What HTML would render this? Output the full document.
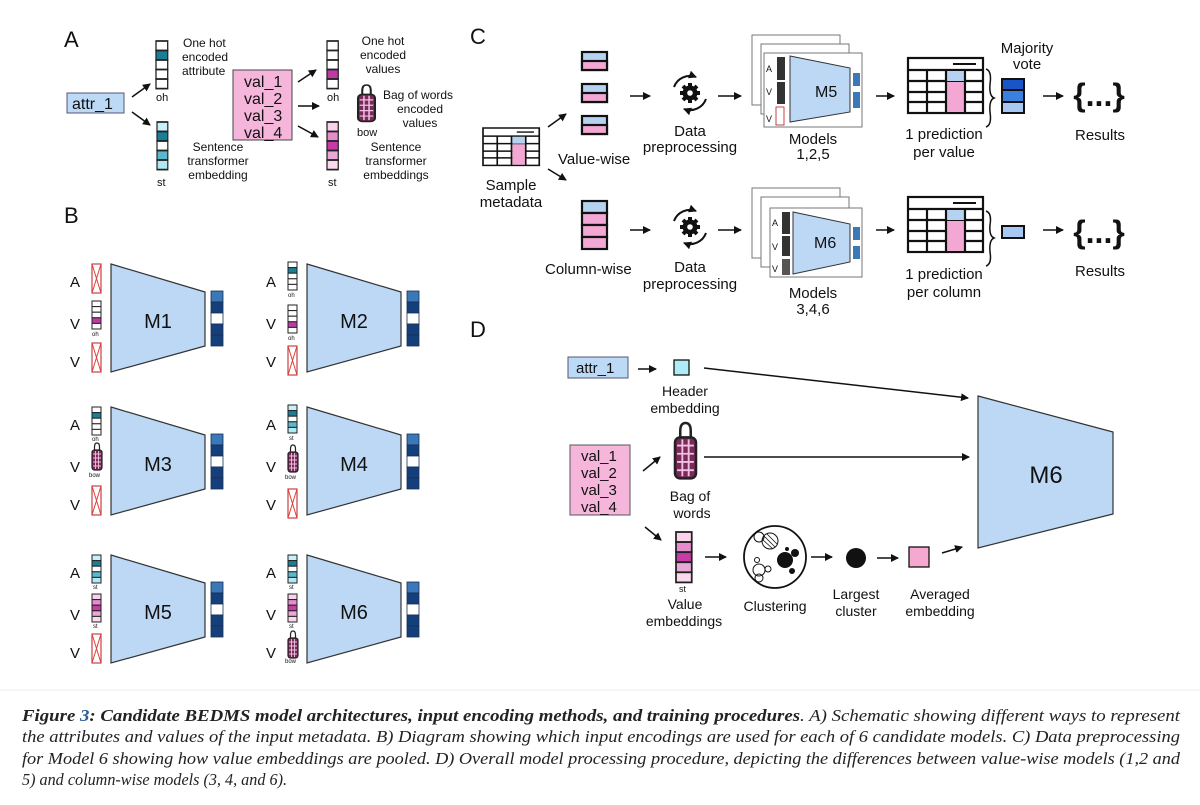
<!DOCTYPE html>
<html><head><meta charset="utf-8"><style>
html,body{margin:0;padding:0;background:#fff}
svg{display:block}
text{font-family:"Liberation Sans",sans-serif;fill:#111}
.cap{font-family:"Liberation Serif",serif;font-style:italic;font-size:16.5px;fill:#222}
</style></head><body>
<svg width="1200" height="805" viewBox="0 0 1200 805" xmlns="http://www.w3.org/2000/svg">
<defs>
<marker id="ah" markerWidth="8" markerHeight="8" refX="7" refY="4" orient="auto" markerUnits="userSpaceOnUse"><path d="M0,0 L8,4 L0,8 z" fill="#111"/></marker>
<g id="xb"><rect x="0" y="0" width="9" height="29" fill="#fff" stroke="#c84040" stroke-width="1.2"/><path d="M0,0 L9,29 M9,0 L0,29" stroke="#e04040" stroke-width="1"/></g>
<g id="ohT" stroke="#222" stroke-width="1"><rect x="0" y="0" width="9" height="5.6" fill="#fff"/><rect x="0" y="5.6" width="9" height="5.6" fill="#1a7f96"/><rect x="0" y="11.2" width="9" height="5.6" fill="#fff"/><rect x="0" y="16.8" width="9" height="5.6" fill="#fff"/><rect x="0" y="22.4" width="9" height="5.6" fill="#fff"/></g>
<g id="ohM" stroke="#222" stroke-width="1"><rect x="0" y="0" width="9" height="5.6" fill="#fff"/><rect x="0" y="5.6" width="9" height="5.6" fill="#fff"/><rect x="0" y="11.2" width="9" height="5.6" fill="#fff"/><rect x="0" y="16.8" width="9" height="5.6" fill="#c03aa6"/><rect x="0" y="22.4" width="9" height="5.6" fill="#fff"/></g>
<g id="stT" stroke="#222" stroke-width="1"><rect x="0" y="0" width="9" height="5.6" fill="#c8f0f8"/><rect x="0" y="5.6" width="9" height="5.6" fill="#1a7f96"/><rect x="0" y="11.2" width="9" height="5.6" fill="#fff"/><rect x="0" y="16.8" width="9" height="5.6" fill="#5ab8cc"/><rect x="0" y="22.4" width="9" height="5.6" fill="#b0e8f4"/></g>
<g id="stP" stroke="#222" stroke-width="1"><rect x="0" y="0" width="9" height="5.6" fill="#fad2ec"/><rect x="0" y="5.6" width="9" height="5.6" fill="#e48ccc"/><rect x="0" y="11.2" width="9" height="5.6" fill="#c83aa8"/><rect x="0" y="16.8" width="9" height="5.6" fill="#e8a8d8"/><rect x="0" y="22.4" width="9" height="5.6" fill="#fad8ee"/></g>
<g id="bow"><path d="M2.5,8 V4 Q2.5,0 5,0 Q7.5,0 7.5,4 V8" fill="none" stroke="#222" stroke-width="1.2"/><rect x="0" y="7" width="10" height="20" rx="2.5" fill="#7a2a5a" stroke="#222" stroke-width="1.2"/><path d="M1,11 H9 M1,15 H9 M1,19 H9 M1,23 H9 M3.5,8 V26 M6.5,8 V26" stroke="#f0c0e0" stroke-width="0.9"/></g>
<g id="outv" stroke="#1a2f55" stroke-width="0.8"><rect x="0" y="0" width="12" height="11" fill="#3a78b8"/><rect x="0" y="11" width="12" height="11" fill="#153f7a"/><rect x="0" y="22" width="12" height="11" fill="#fff"/><rect x="0" y="33" width="12" height="11" fill="#153f7a"/><rect x="0" y="44" width="12" height="11" fill="#153f7a"/></g>
<g id="trap"><polygon points="0,0 94,28 94,82 0,108" fill="#bcd8f5" stroke="#333" stroke-width="1.2"/></g>
<g id="tbl" stroke="#111" stroke-width="2.2" fill="#fff"><rect x="0" y="0" width="75" height="55"/><line x1="0" y1="12" x2="75" y2="12"/><line x1="0" y1="23" x2="75" y2="23"/><line x1="0" y1="34" x2="75" y2="34"/><line x1="0" y1="44" x2="75" y2="44"/><rect x="39" y="13" width="17" height="10" fill="#b5d3f0" stroke="none"/><rect x="39" y="24" width="17" height="30" fill="#f2a8d2" stroke="none"/><line x1="19" y1="12" x2="19" y2="55"/><line x1="38" y1="12" x2="38" y2="55"/><line x1="57" y1="12" x2="57" y2="55"/><line x1="45" y1="6" x2="68" y2="6" stroke-width="2"/></g>
<g id="gear"><path d="M-16,-6 A17,17 0 0 1 6,-16" fill="none" stroke="#111" stroke-width="2" marker-end="url(#ah)"/><path d="M16,6 A17,17 0 0 1 -6,16" fill="none" stroke="#111" stroke-width="2" marker-end="url(#ah)"/><circle r="7.5" fill="#111"/><g stroke="#111" stroke-width="4"><line x1="0" y1="-10" x2="0" y2="10"/><line x1="-10" y1="0" x2="10" y2="0"/><line x1="-7" y1="-7" x2="7" y2="7"/><line x1="7" y1="-7" x2="-7" y2="7"/></g><circle r="2.8" fill="#fff"/></g>
<g id="frame"><rect x="0" y="0" width="88" height="70" fill="#fff" stroke="#777" stroke-width="1"/></g>
</defs>

<!-- PANEL A -->
<text x="64" y="47" font-size="22">A</text>
<rect x="67" y="93" width="57" height="20" fill="#bcd9f5" stroke="#557" stroke-width="1"/>
<text x="72" y="109" font-size="16">attr_1</text>
<g stroke="#111" stroke-width="1.5" marker-end="url(#ah)"><line x1="132" y1="97" x2="150" y2="84"/><line x1="132" y1="112" x2="150" y2="125"/><line x1="298" y1="82" x2="316" y2="70"/><line x1="298" y1="106" x2="319" y2="106"/><line x1="298" y1="126" x2="318" y2="137"/></g>
<g transform="translate(156,41) scale(1.3,1.7)"><use href="#ohT"/></g>
<text x="156" y="101" font-size="11">oh</text>
<text x="183" y="47" font-size="12">One hot</text><text x="182" y="61" font-size="12">encoded</text><text x="182" y="75" font-size="12">attribute</text>
<g transform="translate(157,122) scale(1.2,1.7)"><use href="#stT"/></g>
<text x="157" y="186" font-size="11">st</text>
<text x="218" y="151" font-size="12" text-anchor="middle">Sentence</text><text x="218" y="165" font-size="12" text-anchor="middle">transformer</text><text x="218" y="179" font-size="12" text-anchor="middle">embedding</text>
<rect x="233" y="70" width="59" height="70" fill="#f6b6dc" stroke="#444" stroke-width="1"/>
<text x="244" y="87" font-size="16">val_1</text><text x="244" y="104" font-size="16">val_2</text><text x="244" y="121" font-size="16">val_3</text><text x="244" y="138" font-size="16">val_4</text>
<g transform="translate(327,41) scale(1.25,1.7)"><use href="#ohM"/></g>
<text x="327" y="101" font-size="11">oh</text>
<text x="383" y="45" font-size="12" text-anchor="middle">One hot</text><text x="383" y="59" font-size="12" text-anchor="middle">encoded</text><text x="383" y="73" font-size="12" text-anchor="middle">values</text>
<g transform="translate(358,85) scale(1.7,1.35)"><use href="#bow"/></g>
<text x="357" y="136" font-size="11">bow</text>
<text x="383" y="99" font-size="12">Bag of words</text><text x="420" y="113" font-size="12" text-anchor="middle">encoded</text><text x="420" y="127" font-size="12" text-anchor="middle">values</text>
<g transform="translate(327,122) scale(1.25,1.7)"><use href="#stP"/></g>
<text x="328" y="186" font-size="11">st</text>
<text x="396" y="151" font-size="12" text-anchor="middle">Sentence</text><text x="396" y="165" font-size="12" text-anchor="middle">transformer</text><text x="396" y="179" font-size="12" text-anchor="middle">embeddings</text>

<!-- PANEL B -->
<text x="64" y="223" font-size="22">B</text>
<g transform="translate(0,0)">
<text x="70" y="287" font-size="15">A</text><text x="70" y="329" font-size="15">V</text><text x="70" y="367" font-size="15">V</text>
<use href="#xb" x="92" y="264"/><use href="#ohM" x="92" y="301"/><text x="92" y="336" font-size="6">oh</text><use href="#xb" x="92" y="343"/>
<use href="#trap" x="111" y="264"/><text x="158" y="328" font-size="20" text-anchor="middle">M1</text><use href="#outv" x="211" y="291"/>
</g>
<g transform="translate(196,0)">
<text x="70" y="287" font-size="15">A</text><text x="70" y="329" font-size="15">V</text><text x="70" y="367" font-size="15">V</text>
<use href="#ohT" x="92" y="262"/><text x="92" y="297" font-size="6">oh</text><use href="#ohM" x="92" y="305"/><text x="92" y="340" font-size="6">oh</text><use href="#xb" x="92" y="346"/>
<use href="#trap" x="111" y="264"/><text x="158" y="328" font-size="20" text-anchor="middle">M2</text><use href="#outv" x="211" y="291"/>
</g>
<g transform="translate(0,143)">
<text x="70" y="287" font-size="15">A</text><text x="70" y="329" font-size="15">V</text><text x="70" y="367" font-size="15">V</text>
<use href="#ohT" x="92" y="264"/><text x="92" y="298" font-size="6">oh</text><use href="#bow" x="92" y="300"/><text x="89" y="334" font-size="6">bow</text><use href="#xb" x="92" y="343"/>
<use href="#trap" x="111" y="264"/><text x="158" y="328" font-size="20" text-anchor="middle">M3</text><use href="#outv" x="211" y="291"/>
</g>
<g transform="translate(196,143)">
<text x="70" y="287" font-size="15">A</text><text x="70" y="329" font-size="15">V</text><text x="70" y="367" font-size="15">V</text>
<use href="#stT" x="92" y="262"/><text x="93" y="297" font-size="6">st</text><use href="#bow" x="92" y="302"/><text x="89" y="336" font-size="6">bow</text><use href="#xb" x="92" y="346"/>
<use href="#trap" x="111" y="264"/><text x="158" y="328" font-size="20" text-anchor="middle">M4</text><use href="#outv" x="211" y="291"/>
</g>
<g transform="translate(0,291)">
<text x="70" y="287" font-size="15">A</text><text x="70" y="329" font-size="15">V</text><text x="70" y="367" font-size="15">V</text>
<use href="#stT" x="92" y="264"/><text x="93" y="298" font-size="6">st</text><use href="#stP" x="92" y="303"/><text x="93" y="337" font-size="6">st</text><use href="#xb" x="92" y="343"/>
<use href="#trap" x="111" y="264"/><text x="158" y="328" font-size="20" text-anchor="middle">M5</text><use href="#outv" x="211" y="291"/>
</g>
<g transform="translate(196,291)">
<text x="70" y="287" font-size="15">A</text><text x="70" y="329" font-size="15">V</text><text x="70" y="367" font-size="15">V</text>
<use href="#stT" x="92" y="264"/><text x="93" y="298" font-size="6">st</text><use href="#stP" x="92" y="303"/><text x="93" y="337" font-size="6">st</text><use href="#bow" x="92" y="340"/><text x="89" y="372" font-size="6">bow</text>
<use href="#trap" x="111" y="264"/><text x="158" y="328" font-size="20" text-anchor="middle">M6</text><use href="#outv" x="211" y="291"/>
</g>

<!-- PANEL C -->
<text x="470" y="44" font-size="22">C</text>
<g stroke="#111" stroke-width="2.2">
<rect x="582" y="52" width="25" height="18" fill="#b5d3f0"/><rect x="582" y="61" width="25" height="9" fill="#f2a8d2"/>
<rect x="582" y="84" width="25" height="18" fill="#b5d3f0"/><rect x="582" y="93" width="25" height="9" fill="#f2a8d2"/>
<rect x="582" y="116" width="25" height="18" fill="#b5d3f0"/><rect x="582" y="125" width="25" height="9" fill="#f2a8d2"/>
<rect x="582" y="201" width="25" height="12" fill="#b5d3f0"/><rect x="582" y="213" width="25" height="12" fill="#f2a8d2"/><rect x="582" y="225" width="25" height="12" fill="#f2a8d2"/><rect x="582" y="237" width="25" height="12" fill="#f2a8d2"/>
</g>
<g transform="translate(483,128) scale(0.75,0.68)"><use href="#tbl"/></g>
<text x="511" y="190" font-size="15" text-anchor="middle">Sample</text><text x="511" y="207" font-size="15" text-anchor="middle">metadata</text>
<text x="558" y="164" font-size="15">Value-wise</text>
<text x="545" y="274" font-size="15">Column-wise</text>
<g stroke="#111" stroke-width="1.5" marker-end="url(#ah)">
<line x1="548" y1="127" x2="566" y2="114"/><line x1="548" y1="169" x2="566" y2="180"/>
<line x1="630" y1="96" x2="650" y2="96"/><line x1="718" y1="96" x2="741" y2="96"/><line x1="876" y1="96" x2="894" y2="96"/><line x1="1043" y1="96" x2="1063" y2="96"/>
<line x1="630" y1="230" x2="650" y2="230"/><line x1="718" y1="230" x2="741" y2="230"/><line x1="876" y1="230" x2="894" y2="230"/><line x1="1043" y1="230" x2="1063" y2="230"/>
</g>
<use href="#gear" x="690" y="93"/><use href="#gear" x="690" y="227"/>
<text x="690" y="136" font-size="15" text-anchor="middle">Data</text><text x="690" y="152" font-size="15" text-anchor="middle">preprocessing</text>
<text x="690" y="272" font-size="15" text-anchor="middle">Data</text><text x="690" y="289" font-size="15" text-anchor="middle">preprocessing</text>
<use href="#frame" x="752" y="35"/><use href="#frame" x="761" y="44"/>
<rect x="764" y="53" width="98" height="74" fill="#fff" stroke="#777"/>
<polygon points="790,56 850,68 850,112 790,122" fill="#bcd8f5" stroke="#333"/>
<text x="815" y="97" font-size="16">M5</text>
<rect x="777" y="57" width="8" height="23" fill="#333"/><rect x="777" y="82" width="8" height="22" fill="#333"/>
<rect x="776" y="107" width="8" height="18" fill="#fff" stroke="#c84040"/>
<text x="766" y="72" font-size="9">A</text><text x="766" y="95" font-size="9">V</text><text x="766" y="122" font-size="9">V</text>
<rect x="853" y="73" width="7" height="35" fill="#3a78b8"/><rect x="853" y="86" width="7" height="6" fill="#fff"/>
<text x="813" y="144" font-size="15" text-anchor="middle">Models</text><text x="813" y="159" font-size="15" text-anchor="middle">1,2,5</text>
<use href="#frame" x="752" y="188"/><use href="#frame" x="761" y="197"/>
<rect x="770" y="208" width="92" height="69" fill="#fff" stroke="#777"/>
<polygon points="793,212 850,224 850,262 793,274" fill="#bcd8f5" stroke="#333"/>
<text x="814" y="248" font-size="16">M6</text>
<rect x="782" y="212" width="8" height="22" fill="#333"/><rect x="782" y="236" width="8" height="20" fill="#333"/><rect x="782" y="259" width="8" height="16" fill="#555"/>
<text x="772" y="226" font-size="9">A</text><text x="772" y="250" font-size="9">V</text><text x="772" y="272" font-size="9">V</text>
<rect x="853" y="227" width="7" height="32" fill="#3a78b8"/><rect x="853" y="240" width="7" height="6" fill="#fff"/>
<text x="813" y="298" font-size="15" text-anchor="middle">Models</text><text x="813" y="314" font-size="15" text-anchor="middle">3,4,6</text>
<use href="#tbl" x="908" y="58"/><use href="#tbl" x="908" y="197"/>
<path d="M986,69 Q992,71 990,84 Q989,96 994,98 Q989,100 990,112 Q992,125 986,127" fill="none" stroke="#111" stroke-width="1.5"/>
<path d="M986,211 Q992,213 990,225 Q989,236 994,238 Q989,240 990,252 Q992,264 986,266" fill="none" stroke="#111" stroke-width="1.5"/>
<g stroke="#111" stroke-width="2"><rect x="1002" y="79" width="22" height="11" fill="#1a55c8"/><rect x="1002" y="90" width="22" height="12" fill="#3a80e0"/><rect x="1002" y="102" width="22" height="11" fill="#a8c8f4"/>
<rect x="1002" y="226" width="22" height="12" fill="#a8c8f4"/></g>
<text x="1027" y="53" font-size="15" text-anchor="middle">Majority</text><text x="1027" y="69" font-size="15" text-anchor="middle">vote</text>
<text x="944" y="139" font-size="15" text-anchor="middle">1 prediction</text><text x="944" y="157" font-size="15" text-anchor="middle">per value</text>
<text x="944" y="279" font-size="15" text-anchor="middle">1 prediction</text><text x="944" y="297" font-size="15" text-anchor="middle">per column</text>
<text x="1099" y="106" font-size="32" font-weight="bold" text-anchor="middle">{...}</text>
<text x="1099" y="243" font-size="32" font-weight="bold" text-anchor="middle">{...}</text>
<text x="1100" y="140" font-size="15" text-anchor="middle">Results</text><text x="1100" y="276" font-size="15" text-anchor="middle">Results</text>

<!-- PANEL D -->
<text x="470" y="337" font-size="22">D</text>
<rect x="568" y="357" width="60" height="21" fill="#bcd9f5" stroke="#557"/>
<text x="576" y="373" font-size="15">attr_1</text>
<rect x="674" y="360" width="15" height="15" fill="#b0ecf8" stroke="#111" stroke-width="1.3"/>
<text x="685" y="396" font-size="14" text-anchor="middle">Header</text><text x="685" y="413" font-size="14" text-anchor="middle">embedding</text>
<rect x="570" y="445" width="60" height="70" fill="#f6b6dc" stroke="#555"/>
<text x="581" y="461" font-size="15">val_1</text><text x="581" y="478" font-size="15">val_2</text><text x="581" y="495" font-size="15">val_3</text><text x="581" y="512" font-size="15">val_4</text>
<g transform="translate(675,423) scale(2.1,2.05)"><use href="#bow"/></g>
<text x="690" y="501" font-size="14" text-anchor="middle">Bag of</text><text x="692" y="518" font-size="14" text-anchor="middle">words</text>
<g transform="translate(676,532) scale(1.75,1.8)"><use href="#stP"/></g>
<text x="679" y="592" font-size="9">st</text>
<text x="685" y="609" font-size="14" text-anchor="middle">Value</text><text x="684" y="626" font-size="14" text-anchor="middle">embeddings</text>
<circle cx="775" cy="557" r="31" fill="#fff" stroke="#111" stroke-width="1.8"/>
<circle cx="759" cy="537" r="5" fill="none" stroke="#111"/><circle cx="770" cy="541" r="8" fill="none" stroke="#111"/>
<path d="M764,536 L775,547 M767,534 L777,544 M763,540 L773,549" stroke="#111" stroke-width="0.8"/>
<circle cx="757" cy="560" r="2.5" fill="none" stroke="#111"/><circle cx="759" cy="570" r="6" fill="none" stroke="#111"/><circle cx="768" cy="569" r="3" fill="none" stroke="#111"/><circle cx="759" cy="578" r="4" fill="none" stroke="#111"/>
<circle cx="785" cy="560" r="8" fill="#111"/><circle cx="795" cy="553" r="4" fill="#111"/><circle cx="792" cy="571" r="3" fill="#111"/><circle cx="787" cy="549" r="2" fill="#111"/>
<text x="775" y="611" font-size="14" text-anchor="middle">Clustering</text>
<circle cx="856" cy="558" r="10" fill="#111"/>
<text x="856" y="599" font-size="14" text-anchor="middle">Largest</text><text x="856" y="616" font-size="14" text-anchor="middle">cluster</text>
<rect x="909" y="547" width="20" height="20" fill="#f5a8d0" stroke="#111" stroke-width="1.3"/>
<text x="940" y="599" font-size="14" text-anchor="middle">Averaged</text><text x="940" y="616" font-size="14" text-anchor="middle">embedding</text>
<polygon points="978,396 1113,432 1113,514 978,548" fill="#bcd8f5" stroke="#333" stroke-width="1.2"/>
<text x="1046" y="483" font-size="24" text-anchor="middle">M6</text>
<g stroke="#111" stroke-width="1.5" marker-end="url(#ah)">
<line x1="638" y1="369" x2="656" y2="369"/><line x1="704" y1="368" x2="968" y2="398"/>
<line x1="643" y1="471" x2="660" y2="457"/><line x1="704" y1="457" x2="969" y2="457"/>
<line x1="645" y1="527" x2="661" y2="540"/>
<line x1="705" y1="557" x2="726" y2="557"/><line x1="811" y1="557" x2="832" y2="557"/><line x1="877" y1="558" x2="898" y2="558"/><line x1="942" y1="553" x2="962" y2="547"/>
</g>

<!-- CAPTION -->
<line x1="0" y1="690" x2="1200" y2="690" stroke="#eee" stroke-width="1"/>
<text class="cap" x="22" y="721" textLength="1158" lengthAdjust="spacingAndGlyphs"><tspan font-weight="bold">Figure </tspan><tspan font-weight="bold" fill="#2a5a9a">3</tspan><tspan font-weight="bold">: Candidate BEDMS model architectures, input encoding methods, and training procedures</tspan>. A) Schematic showing different ways to represent</text>
<text class="cap" x="22" y="742" textLength="1158" lengthAdjust="spacingAndGlyphs">the attributes and values of the input metadata. B) Diagram showing which input encodings are used for each of 6 candidate models. C) Data preprocessing</text>
<text class="cap" x="22" y="764" textLength="1158" lengthAdjust="spacingAndGlyphs">for Model 6 showing how value embeddings are pooled. D) Overall model processing procedure, depicting the differences between value-wise models (1,2 and</text>
<text class="cap" x="22" y="785" textLength="265" lengthAdjust="spacingAndGlyphs">5) and column-wise models (3, 4, and 6).</text>
</svg>
</body></html>
